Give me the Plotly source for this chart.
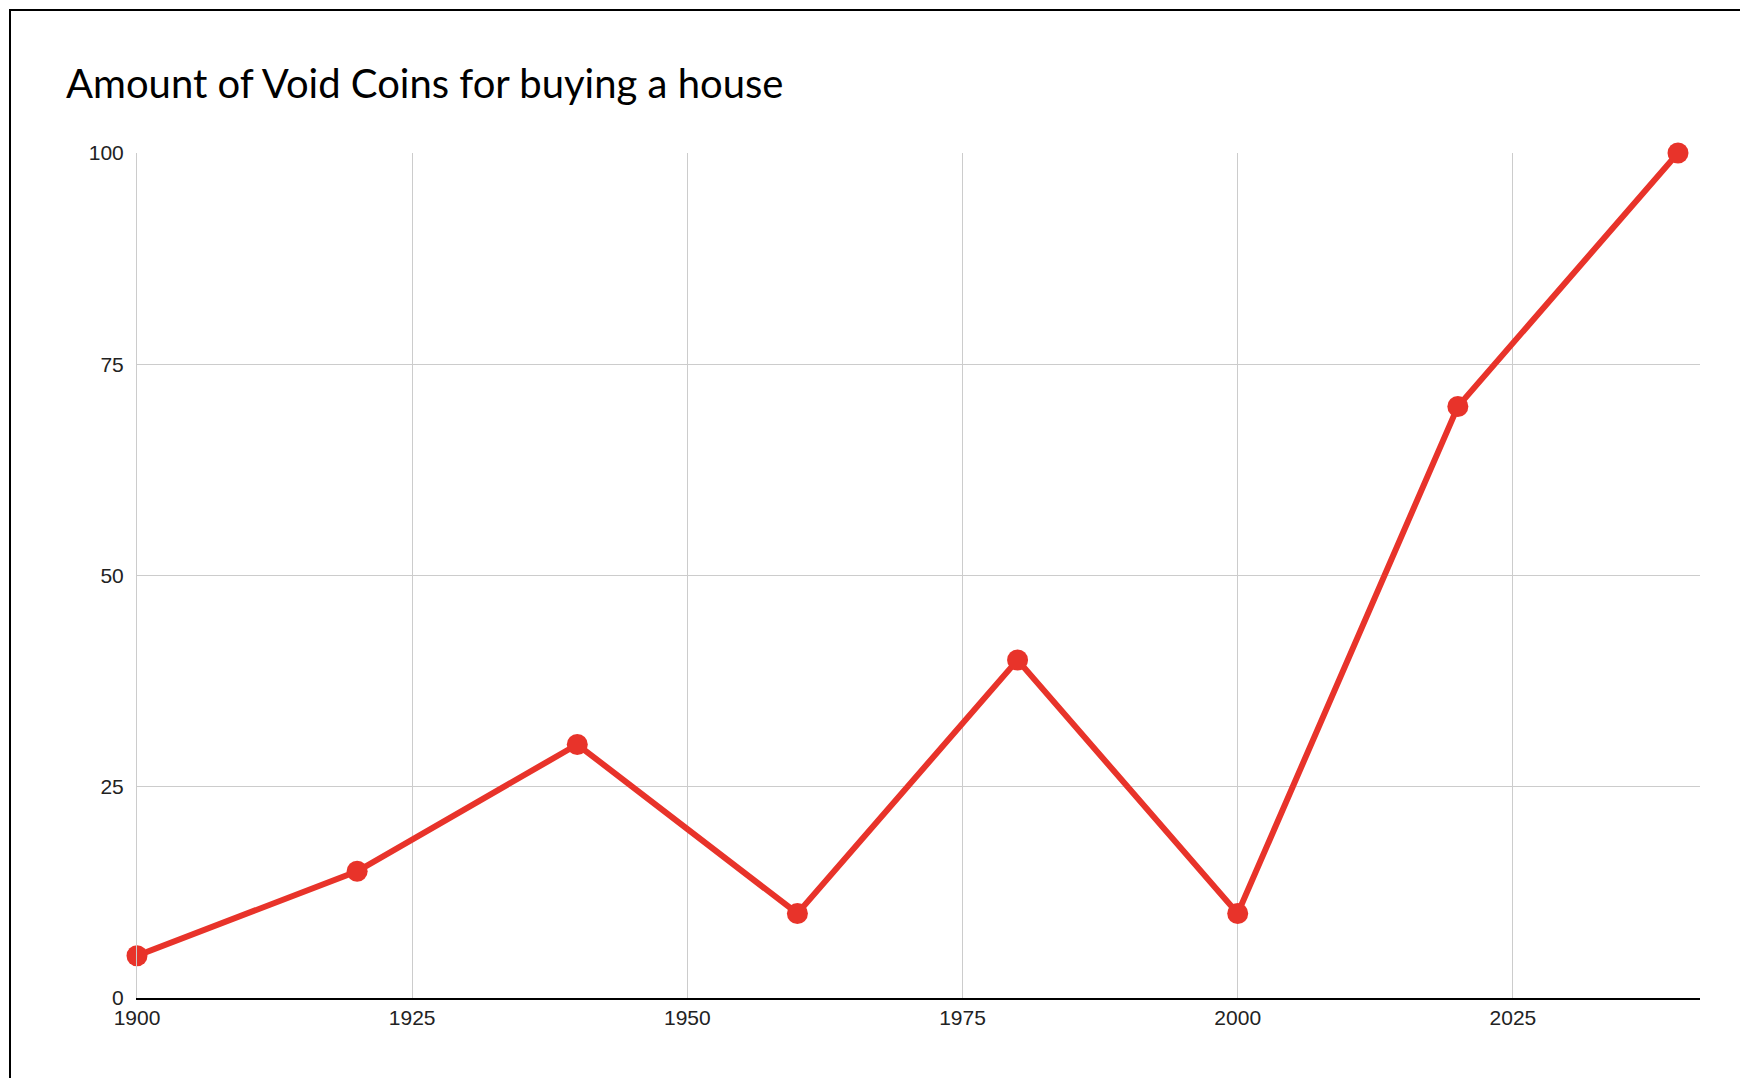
import plotly.graph_objects as go

years = [1900, 1920, 1940, 1960, 1980, 2000, 2020, 2040]
coins = [5, 15, 30, 10, 40, 10, 70, 100]
x_ticks = [1900, 1925, 1950, 1975, 2000, 2025]
y_ticks = [0, 25, 50, 75, 100]

fig = go.Figure()
fig.add_trace(go.Scatter(
    x=years, y=coins, mode="lines+markers",
    line=dict(color="#e8332a", width=6),
    marker=dict(color="#e8332a", size=21),
    cliponaxis=False, showlegend=False,
))

fig.update_layout(
    width=1748, height=1078,
    paper_bgcolor="white", plot_bgcolor="white",
    margin=dict(l=129, r=56, t=145, b=88),
    title=dict(text="Amount of Void Coins for buying a house",
               x=58 / 1748, xanchor="left", y=1 - 76 / 1078, yanchor="middle",
               font=dict(family="Comic Sans MS, Lato, sans-serif", size=40, color="black")),
    font=dict(family="Liberation Sans, Arial, sans-serif", size=21, color="#222"),
    shapes=[dict(type="rect", xref="paper", yref="paper", x0=-127 / 1563, x1=1 + 56 / 1563,
                 y0=-88 / 845, y1=1 + 143 / 845, line=dict(color="black", width=2))],
)
fig.update_xaxes(range=[1900, 2042], tickvals=x_ticks, showgrid=True, gridcolor="#cccccc",
                 showline=True, linecolor="black", linewidth=2, zeroline=False, ticks="")
fig.update_yaxes(range=[0, 100], tickvals=y_ticks, showgrid=True, gridcolor="#cccccc",
                 showline=True, linecolor="#cccccc", linewidth=1,
                 zeroline=False, ticks="", ticklabelstandoff=8)

fig.write_html("out.html")
